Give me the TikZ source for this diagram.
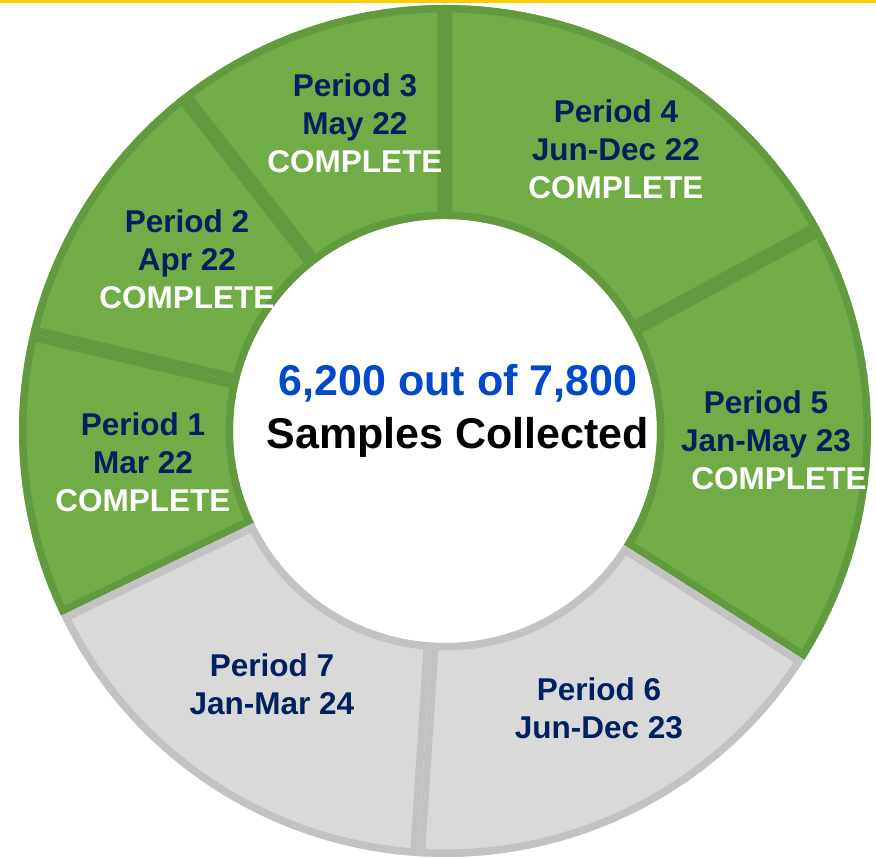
\documentclass[tikz,border=0pt]{standalone}
\usepackage{fontspec}
\setmainfont{Liberation Sans}
\usetikzlibrary{calc}

\definecolor{ringgreen}{HTML}{70AD47}
\definecolor{ringgreenline}{HTML}{629B3F}
\definecolor{ringgrey}{HTML}{D9D9D9}
\definecolor{ringgreyline}{HTML}{C3C3C3}
\definecolor{periodblue}{HTML}{002060}
\definecolor{countblue}{HTML}{0048CC}
\definecolor{topyellow}{HTML}{FFCC00}

% one piece of the ring: start angle, end angle, style
\newcommand{\ringpart}[3]{%
  \begin{scope}
    \clip (#1:426pt) arc[start angle=#1,end angle=#2,radius=426pt]
      -- (#2:212pt) arc[start angle=#2,end angle=#1,radius=212pt] -- cycle;
    \filldraw[#3] (#1:426pt) arc[start angle=#1,end angle=#2,radius=426pt]
      -- (#2:212pt) arc[start angle=#2,end angle=#1,radius=212pt] -- cycle;
  \end{scope}}

\begin{document}
\begin{tikzpicture}[x=1pt,y=1pt,
    donepart/.style={fill=ringgreen,draw=ringgreenline,line width=15pt},
    openpart/.style={fill=ringgrey,draw=ringgreyline,line width=15pt},
    periodtext/.style={font={\bfseries\fontsize{31.5pt}{38pt}\selectfont},
      text=periodblue,align=center,inner sep=0pt},
    centertext/.style={font={\bfseries\fontsize{43pt}{53pt}\selectfont},
      align=center,inner sep=0pt}]
    \useasboundingbox (-445,-427) rectangle (431,431);
    \draw[topyellow,line width=3pt] (-445,429) -- (431,429);
    % ring
    \ringpart{166.7}{205.7}{donepart}
    \ringpart{128}{166.7}{donepart}
    \ringpart{90}{128}{donepart}
    \ringpart{28.4}{90}{donepart}
    \ringpart{-32.5}{28.4}{donepart}
    \ringpart{-93.7}{-32.5}{openpart}
    \ringpart{205.7}{266.3}{openpart}
    % texts
    \node[periodtext] (p1) at (-302,-31)
      {Period 1\\Mar 22\\\textcolor{white}{COMPLETE}};
    \node[periodtext] (p2) at (-258,172)
      {Period 2\\Apr 22\\\textcolor{white}{COMPLETE}};
    \node[periodtext] (p3) at (-90,308)
      {Period 3\\May 22\\\textcolor{white}{COMPLETE}};
    \node[periodtext] (p4) at (171,282)
      {Period 4\\Jun-Dec 22\\\textcolor{white}{COMPLETE}};
    \node[periodtext] (p5) at (321,-9)
      {Period 5\\Jan-May 23\\\hspace*{26pt}\textcolor{white}{COMPLETE}};
    \node[periodtext] (p6) at (154,-277) {Period 6\\Jun-Dec 23};
    \node[periodtext] (p7) at (-173,-253) {Period 7\\Jan-Mar 24};
    \node[centertext] (total) at (13,20)
      {\textcolor{countblue}{6,200 out of 7,800}\\Samples Collected};
\end{tikzpicture}
\end{document}
